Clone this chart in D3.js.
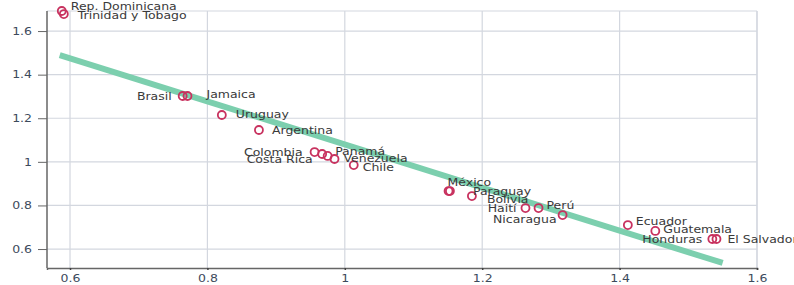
<!DOCTYPE html>
<html>
<head>
<meta charset="utf-8">
<script src="https://cdn.jsdelivr.net/npm/d3@7"></script>
<style>
  html, body { margin: 0; padding: 0; background: #fff; }
  svg { display: block; }
  text { font-family: "DejaVu Sans", Verdana, sans-serif; }
</style>
</head>
<body>
<svg id="chart" width="794" height="285"></svg>
<script>
// ---- data ----
const countries = ["Rep. Dominicana","Trinidad y Tobago","Brasil","Jamaica","Uruguay","Argentina",
  "Colombia","Panamá","Costa Rica","Venezuela","Chile","México","Paraguay","Bolivia",
  "Haití","Perú","Nicaragua","Ecuador","Guatemala","Honduras","El Salvador"];
const xValues = [0.588,0.591,0.764,0.771,0.821,0.875,0.956,0.967,0.975,0.985,1.013,1.151,1.153,1.185,
  1.263,1.282,1.317,1.412,1.452,1.535,1.541];
const yValues = [1.692,1.678,1.302,1.302,1.215,1.146,1.045,1.036,1.027,1.013,0.985,0.866,0.866,0.843,
  0.788,0.788,0.756,0.710,0.683,0.646,0.646];
const trendX = [0.585, 1.550];
const trendY = [1.490, 0.536];
const xTicks = [0.6, 0.8, 1.0, 1.2, 1.4, 1.6];
const yTicks = [0.6, 0.8, 1.0, 1.2, 1.4, 1.6];
const xTickLabels = ["0.6","0.8","1","1.2","1.4","1.6"];
const yTickLabels = ["0.6","0.8","1","1.2","1.4","1.6"];

// label layout (anchor, dx, dy in px)
const labelLayout = {
  "Rep. Dominicana": ["start", 9, -5],
  "Trinidad y Tobago": ["start", 14, 1],
  "Brasil": ["end", -11, 0],
  "Jamaica": ["start", 19, -2],
  "Uruguay": ["start", 14, 0],
  "Argentina": ["start", 13, 0],
  "Colombia": ["end", -12, 0],
  "Panamá": ["start", 13, -3],
  "Costa Rica": ["end", -15, 4],
  "Venezuela": ["start", 9, -1],
  "Chile": ["start", 9, 2],
  "México": ["start", -1, -9],
  "Paraguay": ["start", 23, 0],
  "Bolivia": ["start", 15, 3],
  "Haití": ["end", -9, 0],
  "Perú": ["start", 8, -3],
  "Nicaragua": ["end", -6, 4],
  "Ecuador": ["start", 8, -4],
  "Guatemala": ["start", 8, -1],
  "Honduras": ["end", -10, 0],
  "El Salvador": ["start", 11, 0]
};

const FS = 10, SX = 1.25;
const svg = d3.select("#chart");
const L = 47, R = 757, T = 11, B = 268;
const x = d3.scaleLinear().domain([0.5665, 1.6]).range([L, R]);
const y = d3.scaleLinear().domain([0.513, 1.692]).range([B, T]);

const gridColor = "#d3d7df";
svg.append("g").selectAll("line").data(xTicks).join("line")
  .attr("x1", d => x(d)).attr("x2", d => x(d)).attr("y1", T).attr("y2", B)
  .attr("stroke", gridColor).attr("stroke-width", 1.2);
svg.append("g").selectAll("line").data(yTicks).join("line")
  .attr("x1", L).attr("x2", R).attr("y1", d => y(d)).attr("y2", d => y(d))
  .attr("stroke", gridColor).attr("stroke-width", 1.2);
svg.append("line").attr("x1", L).attr("x2", R).attr("y1", T).attr("y2", T)
  .attr("stroke", gridColor).attr("stroke-width", 1.2);
svg.append("line").attr("x1", R).attr("x2", R).attr("y1", T).attr("y2", B)
  .attr("stroke", gridColor).attr("stroke-width", 1.2);

// axes
const tickColor = "#3c4a5c";
const yAxis = d3.axisLeft(y).tickValues(yTicks).tickFormat((d,i) => yTickLabels[i]).tickSizeOuter(0).tickSize(9);
const gy = svg.append("g").attr("transform", `translate(${L},0)`).call(yAxis);
gy.select(".domain").attr("stroke", "#666").attr("stroke-width", 1.5).attr("d", `M0,${T}V${B}`);
gy.selectAll(".tick line").attr("stroke", "#666");
gy.selectAll(".tick text").attr("fill", tickColor).attr("font-size", FS).attr("font-family", "DejaVu Sans")
  .attr("x", 0).attr("transform", `translate(-15,0) scale(${SX},1)`);

const xAxis = d3.axisBottom(x).tickValues(xTicks).tickFormat((d,i) => xTickLabels[i]).tickSizeOuter(0).tickSize(2).tickPadding(5);
const gx = svg.append("g").attr("transform", `translate(0,${B})`).call(xAxis);
gx.select(".domain").attr("stroke", "#666").attr("stroke-width", 1.5);
gx.selectAll(".tick line").attr("stroke", "#444").attr("stroke-width", 1.5);
gx.selectAll(".tick text").attr("fill", tickColor).attr("font-size", FS).attr("font-family", "DejaVu Sans")
  .attr("transform", `scale(${SX},1)`);

// trend line
svg.append("line")
  .attr("x1", x(trendX[0])).attr("y1", y(trendY[0]))
  .attr("x2", x(trendX[1])).attr("y2", y(trendY[1]))
  .attr("stroke", "#7ccfae").attr("stroke-width", 6).attr("stroke-linecap", "butt");

// points
const data = countries.map((c, i) => ({c, xv: xValues[i], yv: yValues[i]}));
svg.append("g").selectAll("circle").data(data).join("circle")
  .attr("cx", d => x(d.xv)).attr("cy", d => y(d.yv)).attr("r", 4)
  .attr("fill", "none").attr("stroke", "#c8325f").attr("stroke-width", 1.8);

// labels
svg.append("g").selectAll("text").data(data).join("text")
  .attr("transform", d => `translate(${x(d.xv) + labelLayout[d.c][1]},${y(d.yv) + labelLayout[d.c][2]}) scale(${SX},1)`)
  .attr("dy", "0.35em")
  .attr("text-anchor", d => labelLayout[d.c][0])
  .attr("font-size", FS)
  .attr("fill", "#3a3a3a")
  .text(d => d.c);
</script>
</body>
</html>
